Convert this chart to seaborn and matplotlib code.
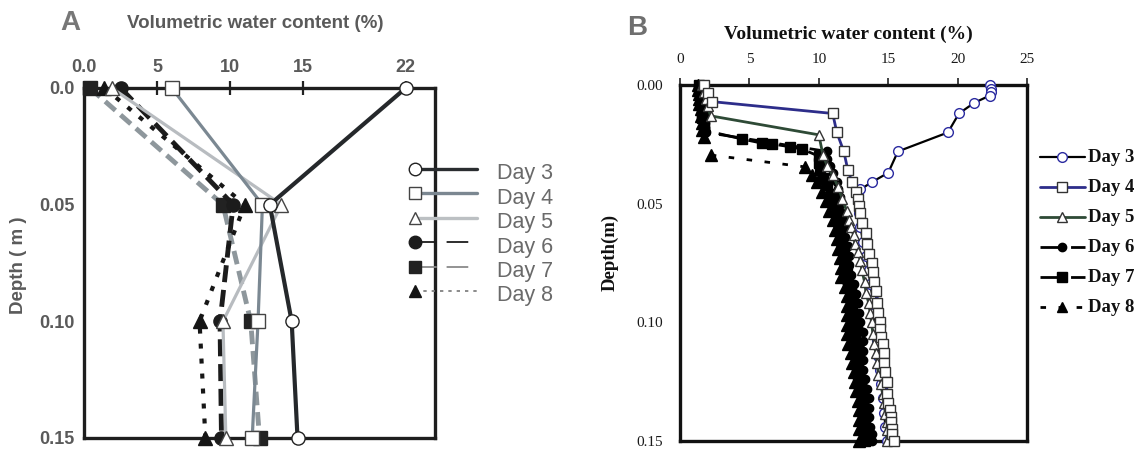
import matplotlib
matplotlib.use("Agg")
import matplotlib.pyplot as plt
from matplotlib.lines import Line2D
import pandas as pd
import seaborn as sns

sns.set_style("white")
plt.rcParams["font.family"] = ["Liberation Sans", "DejaVu Sans"]

# ---------------- Panel A: profiles at four depths ----------------
a_depth = [0.0, 0.05, 0.10, 0.15]
a_day3 = [22.0, 12.7, 14.2, 14.6]
a_day4 = [6.0, 12.2, 11.9, 11.5]
a_day5 = [1.9, 13.5, 9.5, 9.7]
a_day6 = [2.5, 10.2, 9.3, 9.4]
a_day7 = [0.4, 9.5, 11.4, 12.0]
a_day8 = [1.4, 11.0, 7.9, 8.3]
a_xticks = [0, 5, 10, 15, 22]
a_xticklabels = ["0.0", "5", "10", "15", "22"]
a_yticks = [0.0, 0.05, 0.10, 0.15]
a_yticklabels = ["0.0", "0.05", "0.10", "0.15"]

# ---------------- Panel B: dense probe profiles ----------------
b_day3_depth = [0.000, 0.0015, 0.003, 0.0045, 0.0075, 0.012, 0.020, 0.028, 0.037, 0.041,
                0.044, 0.049, 0.054, 0.060, 0.066, 0.072, 0.078, 0.084, 0.090, 0.096,
                0.102, 0.108, 0.114, 0.120, 0.126, 0.132, 0.138, 0.144, 0.150]
b_day3_vwc = [22.3, 22.4, 22.4, 22.3, 21.2, 20.1, 19.3, 15.7, 15.0, 13.8,
              13.0, 12.8, 12.9, 13.0, 13.2, 13.4, 13.6, 13.7, 13.9, 14.0,
              14.1, 14.2, 14.3, 14.4, 14.5, 14.6, 14.7, 14.8, 14.9]

b_day4_depth = [0.000, 0.0035, 0.007, 0.012, 0.020, 0.028, 0.036, 0.041, 0.045, 0.048,
                0.051, 0.054, 0.058, 0.0625, 0.067, 0.071, 0.075, 0.079, 0.083, 0.087,
                0.092, 0.096, 0.100, 0.103, 0.106, 0.109, 0.113, 0.117, 0.121, 0.125,
                0.130, 0.134, 0.137, 0.140, 0.142, 0.145, 0.147, 0.150]
b_day4_vwc = [1.7, 2.0, 2.3, 11.0, 11.3, 11.8, 12.1, 12.4, 12.7, 12.8,
              12.9, 13.0, 13.1, 13.4, 13.5, 13.6, 13.8, 13.9, 14.0, 14.1,
              14.2, 14.3, 14.4, 14.4, 14.5, 14.6, 14.7, 14.7, 14.8, 14.9,
              14.9, 15.0, 15.1, 15.2, 15.2, 15.3, 15.3, 15.4]

b_day5_depth = [0.000, 0.003, 0.006, 0.009, 0.013, 0.021, 0.0295, 0.034, 0.038, 0.043,
                0.048, 0.053, 0.057, 0.060, 0.063, 0.067, 0.0705, 0.074, 0.078, 0.083,
                0.0875, 0.092, 0.096, 0.100, 0.105, 0.109, 0.113, 0.117, 0.122, 0.126,
                0.130, 0.134, 0.1385, 0.142, 0.1455, 0.150]
b_day5_vwc = [1.6, 1.7, 1.9, 2.0, 2.2, 10.0, 10.3, 10.6, 11.0, 11.4,
              11.7, 12.0, 12.2, 12.3, 12.5, 12.6, 12.8, 13.0, 13.1, 13.3,
              13.4, 13.6, 13.7, 13.8, 13.9, 14.0, 14.1, 14.2, 14.3, 14.5,
              14.6, 14.7, 14.8, 14.9, 14.9, 14.9]

b_day6_depth = [0.000, 0.002, 0.004, 0.006, 0.008, 0.010, 0.012, 0.014, 0.016, 0.018,
                0.020, 0.028, 0.031, 0.034, 0.037, 0.041, 0.044, 0.047, 0.050, 0.054,
                0.057, 0.060, 0.064, 0.068, 0.072, 0.076, 0.080, 0.084, 0.088, 0.092,
                0.096, 0.100, 0.104, 0.108, 0.112, 0.116, 0.120, 0.124, 0.128, 0.132,
                0.136, 0.140, 0.144, 0.147, 0.150]
b_day6_vwc = [1.5, 1.5, 1.6, 1.6, 1.7, 1.7, 1.7, 1.8, 1.8, 1.8,
              1.9, 10.6, 10.6, 10.8, 11.0, 11.3, 11.4, 11.5, 11.6, 11.7,
              11.8, 11.9, 11.9, 12.1, 12.2, 12.2, 12.3, 12.5, 12.7, 12.8,
              12.9, 13.0, 13.2, 13.2, 13.2, 13.2, 13.2, 13.3, 13.5, 13.6,
              13.6, 13.6, 13.7, 13.8, 13.8]

b_day7_depth = [0.000, 0.002, 0.004, 0.006, 0.008, 0.010, 0.012, 0.014, 0.016, 0.019,
                0.0228, 0.0245, 0.0248, 0.026, 0.027, 0.030, 0.033, 0.036, 0.039, 0.042,
                0.046, 0.050, 0.054, 0.058, 0.062, 0.066, 0.070, 0.074, 0.078, 0.082,
                0.086, 0.090, 0.094, 0.098, 0.102, 0.106, 0.110, 0.114, 0.118, 0.122,
                0.126, 0.130, 0.134, 0.138, 0.142, 0.146, 0.150]
b_day7_vwc = [1.4, 1.4, 1.5, 1.5, 1.5, 1.6, 1.6, 1.6, 1.7, 1.7,
              4.5, 5.9, 6.6, 7.9, 8.8, 10.0, 10.0, 10.1, 10.3, 10.6,
              10.9, 11.1, 11.3, 11.5, 11.6, 11.7, 11.8, 11.9, 12.0, 12.1,
              12.3, 12.4, 12.4, 12.5, 12.6, 12.6, 12.7, 12.7, 12.8, 12.8,
              12.9, 13.1, 13.2, 13.2, 13.3, 13.3, 13.3]

b_day8_depth = [0.000, 0.002, 0.004, 0.006, 0.008, 0.010, 0.013, 0.016, 0.019, 0.022,
                0.0295, 0.0345, 0.038, 0.041, 0.045, 0.049, 0.053, 0.057, 0.061, 0.065,
                0.069, 0.073, 0.077, 0.081, 0.085, 0.089, 0.093, 0.097, 0.101, 0.105,
                0.109, 0.113, 0.117, 0.121, 0.125, 0.129, 0.133, 0.137, 0.141, 0.145,
                0.150]
b_day8_vwc = [1.3, 1.3, 1.4, 1.4, 1.4, 1.5, 1.5, 1.6, 1.6, 1.7,
              2.2, 9.0, 9.5, 9.9, 10.2, 10.5, 10.7, 11.0, 11.2, 11.3,
              11.4, 11.5, 11.6, 11.6, 11.9, 12.0, 12.0, 12.0, 12.0, 12.0,
              12.1, 12.3, 12.4, 12.5, 12.6, 12.7, 12.8, 12.9, 12.9, 12.9,
              12.9]

b_xticks = [0, 5, 10, 15, 20, 25]
b_yticks = [0.00, 0.05, 0.10, 0.15]
b_yticklabels = ["0.00", "0.05", "0.10", "0.15"]

day_labels = ["Day 3", "Day 4", "Day 5", "Day 6", "Day 7", "Day 8"]

# ---------------- styles ----------------
GRAY_TXT = "#5a5a5a"
a_styles = [
    dict(color="#25282b", linewidth=3.0, linestyle="-", marker="o", markersize=9.5,
         markerfacecolor="white", markeredgecolor="#222222", markeredgewidth=1.0),
    dict(color="#7b8892", linewidth=2.3, linestyle="-", marker="s", markersize=9.5,
         markerfacecolor="white", markeredgecolor="#444444", markeredgewidth=1.0),
    dict(color="#b8bcc0", linewidth=2.3, linestyle="-", marker="^", markersize=9.5,
         markerfacecolor="white", markeredgecolor="#444444", markeredgewidth=1.0),
    dict(color="#1c1c1c", linewidth=3.5, linestyle=(0, (3.5, 1.6)), marker="o", markersize=9.5,
         markerfacecolor="#1c1c1c", markeredgecolor="#1c1c1c", markeredgewidth=1.0),
    dict(color="#8e979c", linewidth=3.5, linestyle=(0, (2.8, 1.4)), marker="s", markersize=9.5,
         markerfacecolor="#222222", markeredgecolor="#222222", markeredgewidth=1.0),
    dict(color="#161616", linewidth=3.0, linestyle=(0, (1.2, 2.4)), marker="^", markersize=9.5,
         markerfacecolor="#151515", markeredgecolor="#151515", markeredgewidth=1.0),
]
a_legend_lines = [
    dict(color="#2a2d30", linewidth=2.4, linestyle="-"),
    dict(color="#7b8791", linewidth=2.4, linestyle="-"),
    dict(color="#bcc0c3", linewidth=2.4, linestyle="-"),
    dict(color="#1c1c1c", linewidth=1.3, linestyle=(0, (12, 5.5))),
    dict(color="#8a8a8a", linewidth=1.3, linestyle=(0, (12, 5.5))),
    dict(color="#777777", linewidth=1.2, linestyle=(0, (2, 3))),
]

b_styles = [
    dict(color="black", linewidth=1.6, linestyle="-", marker="o", markersize=7,
         markerfacecolor="white", markeredgecolor="#2a2aa0", markeredgewidth=1.0),
    dict(color="#2d2d8a", linewidth=2.0, linestyle="-", marker="s", markersize=7,
         markerfacecolor="white", markeredgecolor="#333333", markeredgewidth=1.0),
    dict(color="#2e4a36", linewidth=2.0, linestyle="-", marker="^", markersize=7.5,
         markerfacecolor="white", markeredgecolor="#333333", markeredgewidth=1.0),
    dict(color="black", linewidth=2.0, linestyle=(0, (8, 3)), marker="o", markersize=6,
         markerfacecolor="black", markeredgecolor="black", markeredgewidth=1.0),
    dict(color="black", linewidth=2.0, linestyle=(0, (8, 3)), marker="s", markersize=7,
         markerfacecolor="black", markeredgecolor="black", markeredgewidth=1.0),
    dict(color="black", linewidth=2.0, linestyle=(0, (2, 4.5)), marker="^", markersize=8,
         markerfacecolor="black", markeredgecolor="black", markeredgewidth=1.0),
]

W, H = 1143, 449
fig = plt.figure(figsize=(W / 100, H / 100), dpi=100)


def frac_box(left, top, right, bottom):
    return [left / W, 1 - bottom / H, (right - left) / W, (bottom - top) / H]


def draw_profile(ax, vwc, depth, style, z):
    df = pd.DataFrame({"vwc": vwc, "depth": depth})
    sns.lineplot(data=df, x="vwc", y="depth", ax=ax, sort=False, estimator=None,
                 errorbar=None, legend=False, zorder=z, clip_on=False, **style)


# ---------------- Panel A ----------------
axA = fig.add_axes(frac_box(84, 88, 435, 438))
a_series = [a_day3, a_day4, a_day5, a_day6, a_day7, a_day8]
a_order = [4, 3, 5, 2, 1, 0]
for k, i in enumerate(a_order):
    draw_profile(axA, a_series[i], a_depth, a_styles[i], 3 + k)
axA.set_xlim(0, 24)
axA.set_ylim(0.15, 0.0)
axA.xaxis.tick_top()
axA.set_xticks(a_xticks)
axA.set_xticklabels(a_xticklabels)
axA.set_yticks(a_yticks)
axA.set_yticklabels(a_yticklabels)
axA.set_xlabel("")
axA.set_ylabel("")
axA.tick_params(axis="x", direction="inout", length=10, width=1.6, color="#222222",
                labelsize=13, labelcolor=GRAY_TXT, pad=4)
axA.tick_params(axis="y", direction="out", length=4, width=1.2, color="#555555",
                labelsize=13, labelcolor=GRAY_TXT, pad=3)
for lab in axA.get_xticklabels() + axA.get_yticklabels():
    lab.set_fontweight("bold")
for sp in axA.spines.values():
    sp.set_linewidth(2.4)
    sp.set_color("#1e1e1e")
    sp.set_zorder(2)

# ---------------- Panel B ----------------
axB = fig.add_axes(frac_box(680, 85, 1027, 441))
b_series = [
    (b_day3_vwc, b_day3_depth), (b_day4_vwc, b_day4_depth), (b_day5_vwc, b_day5_depth),
    (b_day6_vwc, b_day6_depth), (b_day7_vwc, b_day7_depth), (b_day8_vwc, b_day8_depth),
]
b_order = [5, 4, 3, 0, 2, 1]
for k, i in enumerate(b_order):
    vwc, depth = b_series[i]
    draw_profile(axB, vwc, depth, b_styles[i], 3 + k)
axB.set_xlim(0, 25)
axB.set_ylim(0.15, 0.0)
axB.xaxis.tick_top()
axB.set_xticks(b_xticks)
axB.set_yticks(b_yticks)
axB.set_yticklabels(b_yticklabels)
axB.set_xlabel("")
axB.set_ylabel("")
axB.tick_params(axis="both", direction="out", length=5, width=1.2, color="#222222",
                labelsize=11, labelcolor="#1a1a1a")
axB.tick_params(axis="x", pad=9)
axB.tick_params(axis="y", pad=7)
for lab in axB.get_xticklabels() + axB.get_yticklabels():
    lab.set_fontfamily("Liberation Serif")
for sp in axB.spines.values():
    sp.set_linewidth(2.4)
    sp.set_color("#111111")

# ---------------- overlay for titles and legends (pixel coordinates) ----------------
ov = fig.add_axes([0, 0, 1, 1], zorder=10)
ov.set_xlim(0, W)
ov.set_ylim(H, 0)
ov.axis("off")
ov.patch.set_alpha(0)

# Panel A labels
ov.text(70, 23, "A", fontsize=20, fontweight="bold", color="#777777", ha="center", va="center")
ov.text(255, 24, "Volumetric water content (%)", fontsize=13.5, fontweight="bold",
        color=GRAY_TXT, ha="center", va="center")
ov.text(19, 265, "Depth ( m )", fontsize=13.5, fontweight="bold", color=GRAY_TXT,
        ha="center", va="center", rotation=90)

# Panel A legend: marker at the start of each line sample
for i, lab in enumerate(day_labels):
    y = 169 + i * 24.4
    ov.add_line(Line2D([415, 477], [y, y], **a_legend_lines[i]))
    st = a_styles[i]
    ov.plot([415], [y], marker=st["marker"], markersize=9, linestyle="none",
            markerfacecolor=st["markerfacecolor"], markeredgecolor=st["markeredgecolor"],
            markeredgewidth=1.0)
    ov.text(497, y + 5, lab, fontsize=15.5, color="#6a6a6a", ha="left", va="center")

# Panel B labels
ov.text(637, 28, "B", fontsize=20, fontweight="bold", color="#6f6f6f", ha="center", va="center")
ov.text(848, 34, "Volumetric water content (%)", fontsize=14, fontweight="bold",
        family="Liberation Serif", color="#111111", ha="center", va="center")
ov.text(610, 252, "Depth(m)", fontsize=13.5, fontweight="bold", family="Liberation Serif",
        color="#111111", ha="center", va="center", rotation=90)

# Panel B legend: marker in the middle of each line sample
for i, lab in enumerate(day_labels):
    y = 157 + i * 30
    st = b_styles[i]
    ov.add_line(Line2D([1040, 1085], [y, y], color=st["color"], linewidth=st["linewidth"],
                       linestyle=st["linestyle"]))
    ov.plot([1062], [y], marker=st["marker"], markersize=min(st["markersize"], 7),
            linestyle="none", markerfacecolor=st["markerfacecolor"],
            markeredgecolor=st["markeredgecolor"], markeredgewidth=1.0)
    ov.text(1088, y, lab, fontsize=13.5, fontweight="bold", family="Liberation Serif",
            color="#111111", ha="left", va="center")

fig.savefig("out.png", dpi=100)
